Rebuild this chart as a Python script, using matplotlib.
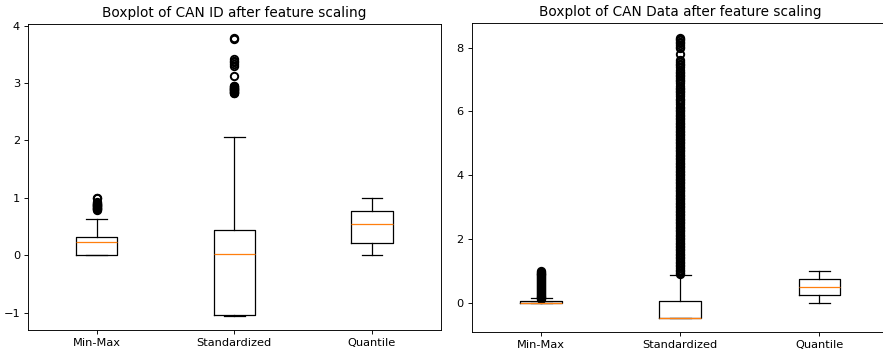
import matplotlib
matplotlib.use("Agg")
import matplotlib.pyplot as plt

labels = ["Min-Max", "Standardized", "Quantile"]

# CAN ID panel: (whislo, q1, median, q3, whishi)
id_whislo = [0.0, -1.05, 0.0]
id_q1 = [0.0, -1.04, 0.21]
id_med = [0.23, 0.02, 0.54]
id_q3 = [0.31, 0.44, 0.77]
id_whishi = [0.64, 2.06, 1.0]
id_fliers_minmax = [0.79, 0.80, 0.81, 0.82, 0.83, 0.84, 0.85, 0.86, 0.87, 0.88,
                    0.89, 0.90, 0.91, 0.92, 0.99, 1.0]
id_fliers_std = [2.82, 2.83, 2.84, 2.85, 2.86, 2.87, 2.88, 2.89, 2.90, 2.91,
                 2.92, 2.93, 2.94, 2.95, 3.13, 3.30, 3.33, 3.36, 3.39, 3.41,
                 3.76, 3.78]
id_fliers_quant = []

# CAN Data panel
data_whislo = [0.0, -0.47, 0.0]
data_q1 = [0.0, -0.47, 0.26]
data_med = [0.0, -0.47, 0.50]
data_q3 = [0.07, 0.08, 0.76]
data_whishi = [0.16, 0.89, 1.0]
data_fliers_minmax = [0.12, 0.15, 0.18, 0.21, 0.24, 0.27, 0.30, 0.33, 0.36, 0.39,
                      0.42, 0.45, 0.48, 0.51, 0.54, 0.57, 0.60, 0.63, 0.66, 0.69,
                      0.72, 0.75, 0.78, 0.81, 0.84, 0.87, 0.90, 0.93, 0.96, 0.99,
                      1.02]
data_fliers_std = [
    0.90, 0.95, 1.00, 1.05, 1.10, 1.15, 1.20, 1.25, 1.30, 1.35, 1.40, 1.45, 1.50,
    1.55, 1.60, 1.65, 1.70, 1.75, 1.80, 1.85, 1.90, 1.95, 2.00, 2.05, 2.10, 2.15,
    2.20, 2.25, 2.30, 2.35, 2.40, 2.45, 2.50, 2.55, 2.60, 2.65, 2.70, 2.75, 2.80,
    2.85, 2.90, 2.95, 3.00, 3.05, 3.10, 3.15, 3.20, 3.25, 3.30, 3.35, 3.40, 3.45,
    3.50, 3.55, 3.60, 3.65, 3.70, 3.75, 3.80, 3.85, 3.90, 3.95, 4.00, 4.05, 4.10,
    4.15, 4.20, 4.25, 4.30, 4.35, 4.40, 4.45, 4.50, 4.55, 4.60, 4.65, 4.70, 4.75,
    4.80, 4.85, 4.90, 4.95, 5.00, 5.05, 5.10, 5.15, 5.20, 5.25, 5.30, 5.35, 5.40,
    5.45, 5.50, 5.55, 5.60, 5.65, 5.70, 5.75, 5.80, 5.85, 5.90, 5.95, 6.00, 6.05,
    6.10, 6.15, 6.25, 6.30, 6.35, 6.40, 6.48, 6.55, 6.60, 6.65, 6.70, 6.75, 6.80,
    6.88, 6.95, 7.00, 7.05, 7.10, 7.15, 7.20, 7.25, 7.30, 7.38, 7.45, 7.50, 7.55,
    7.60, 7.80, 7.98, 8.03, 8.08, 8.13, 8.18, 8.23, 8.28, 8.30]
data_fliers_quant = []


def make_stats(whislo, q1, med, q3, whishi, fliers):
    return [dict(label=l, whislo=a, q1=b, med=c, q3=d, whishi=e, fliers=f)
            for l, a, b, c, d, e, f in zip(labels, whislo, q1, med, q3, whishi, fliers)]


DPI = 82
fig = plt.figure(figsize=(883 / DPI, 354 / DPI), dpi=DPI)

ax1 = fig.add_axes([28 / 883, 1 - 330 / 354, (440.7 - 28) / 883, (330 - 24.3) / 354])
ax2 = fig.add_axes([471.5 / 883, 1 - 332.3 / 354, (889 - 471.5) / 883, (332.3 - 23.3) / 354])

flierprops = dict(marker="o", markerfacecolor="none", markeredgecolor="black",
                  markersize=6.5, markeredgewidth=1.7)
lw = 1.1
common = dict(flierprops=flierprops,
              boxprops=dict(linewidth=lw),
              whiskerprops=dict(linewidth=lw),
              capprops=dict(linewidth=lw),
              medianprops=dict(linewidth=lw, color="#ff7f0e"))

ax1.bxp(make_stats(id_whislo, id_q1, id_med, id_q3, id_whishi,
                   [id_fliers_minmax, id_fliers_std, id_fliers_quant]), **common)
ax1.set_ylim(-1.302, 4.023)
ax1.set_title("Boxplot of CAN ID after feature scaling")

ax2.bxp(make_stats(data_whislo, data_q1, data_med, data_q3, data_whishi,
                   [data_fliers_minmax, data_fliers_std, data_fliers_quant]), **common)
ax2.set_ylim(-0.91, 8.76)
ax2.set_title("Boxplot of CAN Data after feature scaling")

fig.savefig("out.png", dpi=DPI)
